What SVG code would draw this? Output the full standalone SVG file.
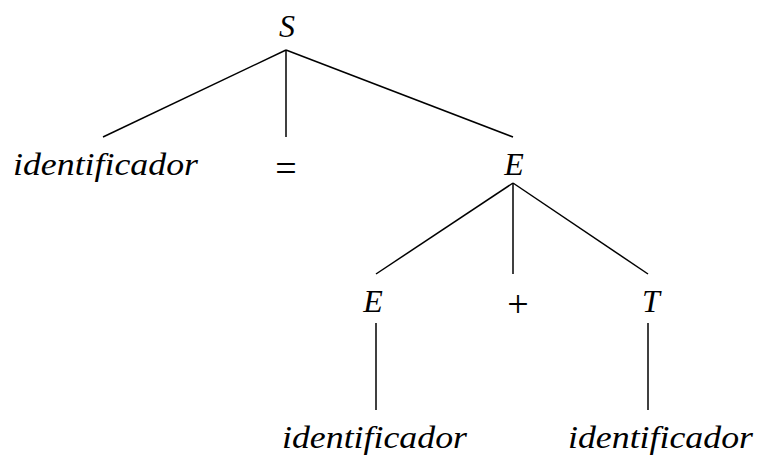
<svg xmlns="http://www.w3.org/2000/svg" width="759" height="466" viewBox="0 0 759 466">
<style>
text{font-family:"Liberation Serif","Times New Roman",serif;font-size:32px;fill:#000}
.i{font-style:italic}
.o{font-size:38px}
.c{stroke:#000;stroke-width:1.5;fill:none}
</style>
<rect width="759" height="466" fill="#fff"/>
<g id="connectors" class="c">
<line x1="286" y1="50" x2="103" y2="137"/>
<line x1="286" y1="50" x2="286" y2="137"/>
<line x1="286" y1="50" x2="513" y2="137"/>
<line x1="513" y1="183" x2="376" y2="274"/>
<line x1="513" y1="183" x2="513" y2="274"/>
<line x1="513" y1="183" x2="648" y2="274"/>
<line x1="376" y1="323" x2="376" y2="410"/>
<line x1="648" y1="323" x2="648" y2="410"/>
</g>
<g id="S"><text class="i" x="287" y="37" text-anchor="middle">S</text></g>
<g id="id1"><text class="i" x="13" y="175" textLength="185" lengthAdjust="spacingAndGlyphs">identificador</text></g>
<g id="eq"><text class="o" x="286" y="181" text-anchor="middle">=</text></g>
<g id="E1"><text class="i" x="514" y="175" text-anchor="middle">E</text></g>
<g id="E2"><text class="i" x="373" y="312" text-anchor="middle">E</text></g>
<g id="plus"><text class="o" x="518" y="317" text-anchor="middle">+</text></g>
<g id="T"><text class="i" x="651" y="312" text-anchor="middle">T</text></g>
<g id="id2"><text class="i" x="282" y="448" textLength="185" lengthAdjust="spacingAndGlyphs">identificador</text></g>
<g id="id3"><text class="i" x="568" y="448" textLength="185" lengthAdjust="spacingAndGlyphs">identificador</text></g>
</svg>
